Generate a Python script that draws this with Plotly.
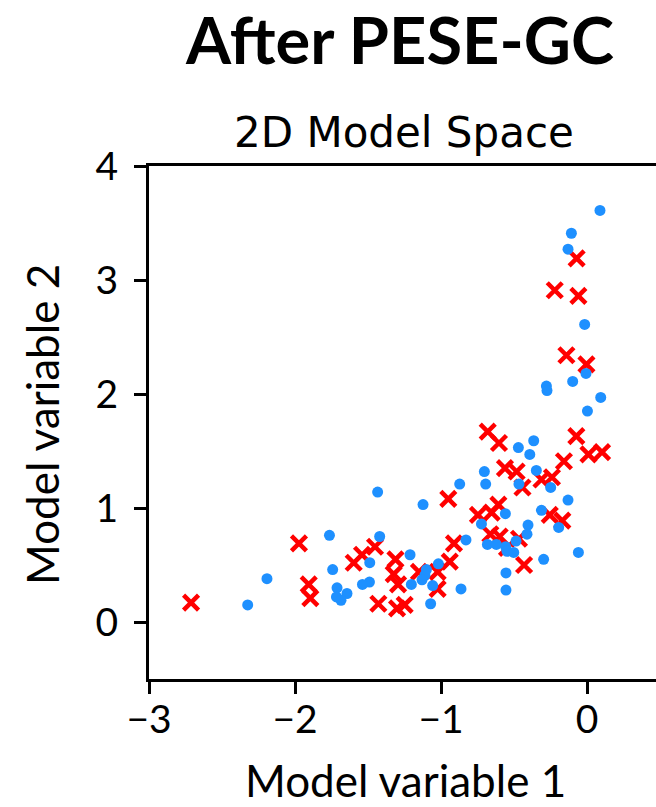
import plotly.graph_objects as go

# Samples projected into the 2D model space
blue_x = [0.089, -0.107, -0.130, -0.016, -0.007, -0.098, -0.278, -0.274, 0.094, 0.003,
          -0.365, -0.470, -0.392, -0.347, -0.703, -0.694, -0.872, -0.466, -0.249, -1.434,
          -0.130, -1.123, -0.312, -0.559, -0.723, -0.404, -0.194, -0.411, -1.764, -1.420,
          -0.829, -0.486, -0.682, -0.621, -0.557, -0.548, -0.502, -0.059, -1.212, -0.297,
          -1.488, -1.018, -1.742, -1.100, -0.555, -1.110, -2.192, -1.130, -1.490, -1.538,
          -1.203, -1.057, -1.712, -0.863, -0.555, -1.644, -1.716, -1.685, -1.071, -2.324]
blue_y = [3.61, 3.41, 3.27, 2.61, 2.18, 2.11, 2.07, 2.03, 1.97, 1.85,
          1.59, 1.53, 1.47, 1.33, 1.32, 1.21, 1.21, 1.21, 1.18, 1.14,
          1.07, 1.03, 0.98, 0.95, 0.86, 0.85, 0.83, 0.77, 0.76, 0.75,
          0.72, 0.71, 0.68, 0.68, 0.66, 0.62, 0.61, 0.61, 0.59, 0.55,
          0.52, 0.51, 0.46, 0.46, 0.43, 0.41, 0.38, 0.37, 0.35, 0.33,
          0.33, 0.32, 0.30, 0.29, 0.28, 0.25, 0.22, 0.19, 0.16, 0.15]

red_x = [-0.071, -0.221, -0.059, -0.141, -0.004, -0.680, -0.603, -0.073, 0.010, 0.103,
         -0.158, -0.562, -0.482, -0.240, -0.312, -0.442, -0.950, -0.607, -0.653, -0.747,
         -0.255, -0.169, -0.662, -0.598, -0.466, -0.548, -1.973, -1.452, -1.541, -1.598,
         -0.911, -0.940, -1.312, -1.324, -1.294, -1.151, -1.023, -1.023, -0.431, -1.906,
         -1.895, -2.712, -1.429, -1.301, -1.249]
red_y = [3.19, 2.91, 2.86, 2.34, 2.26, 1.67, 1.57, 1.63, 1.47, 1.49,
         1.41, 1.35, 1.32, 1.27, 1.25, 1.18, 1.08, 1.03, 0.96, 0.94,
         0.94, 0.89, 0.77, 0.75, 0.73, 0.65, 0.69, 0.66, 0.59, 0.52,
         0.69, 0.53, 0.55, 0.42, 0.33, 0.44, 0.44, 0.29, 0.50, 0.33,
         0.21, 0.17, 0.16, 0.12, 0.15]

x_ticks = [-3, -2, -1, 0]
y_ticks = [0, 1, 2, 3, 4]
x_range = [-3, 0.4726]
y_range = [-0.5, 4]

W, H = 656, 807
L, R, T, B = 149, 0, 166, 128
pw, ph = W - L - R, H - T - B


def px(xp):
    return (xp - L) / pw


def py(yp):
    return (H - B - yp) / ph


label_font = dict(family="Lato", size=44, color="black")
tick_font = dict(family="Lato", size=39, color="black")

fig = go.Figure()
fig.add_trace(go.Scatter(
    x=red_x, y=red_y, mode="markers",
    marker=dict(symbol="x-thin", size=15, color="#FF0000",
                line=dict(color="#FF0000", width=4.5)),
    showlegend=False))
fig.add_trace(go.Scatter(
    x=blue_x, y=blue_y, mode="markers",
    marker=dict(symbol="circle", size=11, color="#1E90FF", line=dict(width=0)),
    showlegend=False))

axis_common = dict(
    showgrid=False, zeroline=False, showline=True, linecolor="black", linewidth=3,
    ticks="outside", ticklen=12, tickwidth=3, tickcolor="black",
    tickfont=tick_font,
)
fig.update_xaxes(range=x_range, tickvals=x_ticks,
                 ticktext=["\u22123", "\u22122", "\u22121", "0"],
                 mirror=True, ticklabelstandoff=-8, **axis_common)
fig.update_yaxes(range=y_range, tickvals=y_ticks, mirror=False,
                 ticklabelstandoff=8, **axis_common)

annotations = [
    dict(text="<b>After PESE-GC</b>", x=px(399), y=py(39),
         font=dict(family="Lato", size=65, color="black")),
    dict(text="2D Model Space", x=px(404), y=py(133),
         font=dict(family="DejaVu Sans", size=42, color="black")),
    dict(text="Model variable 1", x=px(405), y=py(780), font=label_font),
    dict(text="Model variable 2", x=px(42), y=py(425), font=label_font, textangle=-90),
]
for a in annotations:
    a.update(xref="paper", yref="paper", showarrow=False,
             xanchor="center", yanchor="middle")
fig.update_layout(
    width=W, height=H, margin=dict(l=L, r=R, t=T, b=B, pad=0),
    plot_bgcolor="white", paper_bgcolor="white",
    annotations=annotations,
)
fig.write_html("out.html")
